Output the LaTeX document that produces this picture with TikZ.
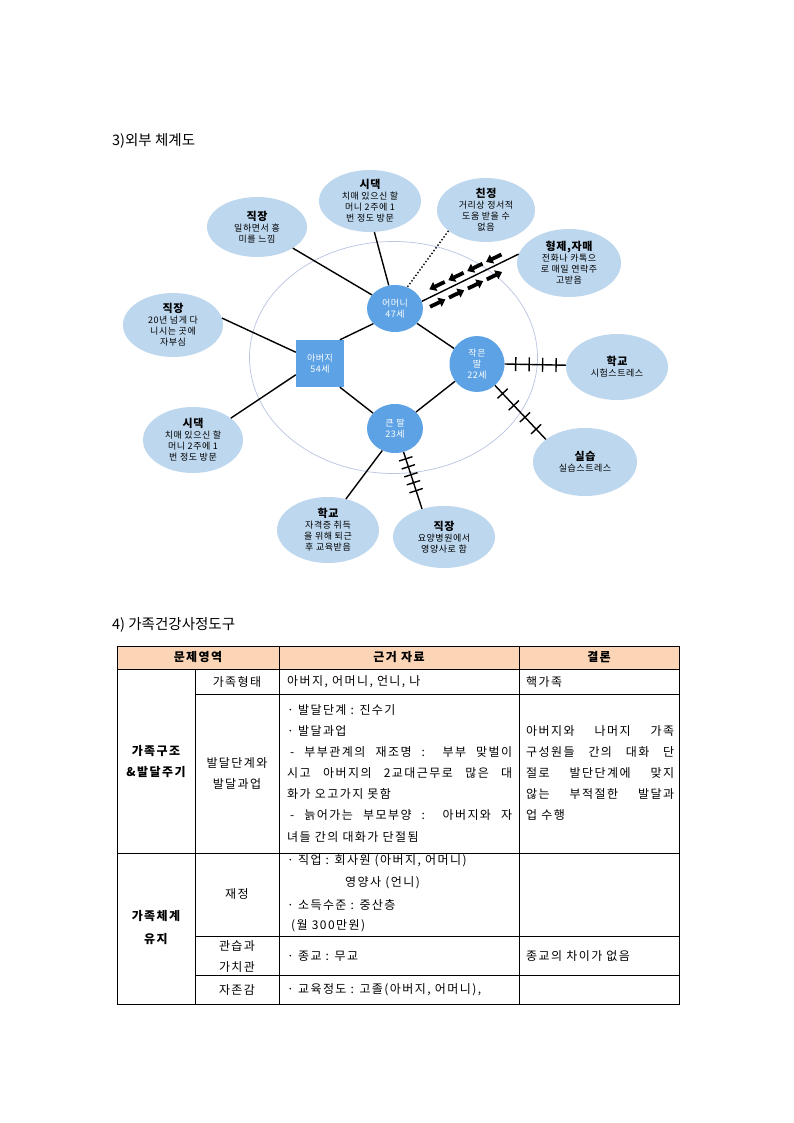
\documentclass[tikz,border=0pt]{standalone}
\usepackage{fontspec}
\setmainfont{Noto Sans CJK KR}
\newfontfamily\tbf[LetterSpace=12]{Noto Sans CJK KR}
\newfontfamily\dgf[LetterSpace=6]{Noto Sans CJK KR}
\usetikzlibrary{shapes.geometric,arrows.meta,decorations.markings,calc}
\definecolor{bubfill}{HTML}{BDD7EE}
\definecolor{memfill}{HTML}{5DA2E4}
\definecolor{ringc}{HTML}{B9C3E2}
\definecolor{headfill}{HTML}{FBD5B5}
\newcommand\ttl[1]{{\fontsize{11}{13}\selectfont\bfseries #1}}
\newcommand\jl[2]{\makebox[#1pt][s]{#2}}
\newcommand\tickmk{\draw[line width=1.4pt] (0pt,-7pt) -- (0pt,7pt);}
\begin{document}
\begin{tikzpicture}[x=1pt,y=-1pt,
  bub/.style={ellipse, fill=bubfill, inner sep=-8pt, align=center,
    font=\dgf\fontsize{9}{11}\selectfont},
  mem/.style={ellipse, fill=memfill, inner sep=0pt, text=white, align=center,
    font=\dgf\fontsize{9}{11}\selectfont},
  memr/.style={rectangle, fill=memfill, inner sep=0pt, text=white, align=center,
    font=\dgf\fontsize{9}{11}\selectfont},
  link/.style={line width=1.4pt},
  dotlink/.style={line width=1.4pt, dotted},
  arw/.style={line width=3.8pt, -{Triangle[length=6.5pt,width=9.5pt]}},
  ticks/.style={line width=1.4pt, postaction={decorate},
    decoration={markings, #1}},
  tc/.style={font=\tbf\fontsize{12}{14}\selectfont, inner sep=0pt},
  tl/.style={tc, anchor=west},
  hd/.style={font=\fontsize{14.5}{16}\selectfont, inner sep=0pt, anchor=west},
  grid/.style={line width=0.8pt}
]
\useasboundingbox (0,0) rectangle (794,1123);
\fill[white] (0,0) rectangle (794,1123);

% ---------- titles ----------
\node[hd] (h3) at (112,141) {3)외부 체계도};
\node[hd] (h4) at (112,625) {4) 가족건강사정도구};

% ---------- diagram ----------
\draw[ringc, line width=0.7pt] (393.5,357.5) ellipse [x radius=144pt, y radius=116pt];

\node[bub, minimum width=100pt, minimum height=60pt] (tlj) at (257,227)
  {\ttl{직장}\\일하면서 흥\\미를 느낌};
\node[bub, minimum width=102pt, minimum height=62pt] (sd) at (370,201)
  {\ttl{시댁}\\치매 있으신 할\\머니 2주에 1\\번 정도 방문};
\node[bub, minimum width=98pt, minimum height=64pt] (cj) at (486,210)
  {\ttl{친정}\\거리상 정서적\\도움 받을 수\\없음};
\node[bub, minimum width=104pt, minimum height=68pt] (hj) at (569,263)
  {\ttl{형제,자매}\\전화나 카톡으\\로 매일 연락주\\고받음};
\node[bub, minimum width=100pt, minimum height=64pt] (lj) at (173,325)
  {\ttl{직장}\\20년 넘게 다\\니시는 곳에\\자부심};
\node[bub, minimum width=100pt, minimum height=66pt] (ls) at (193,440)
  {\ttl{시댁}\\치매 있으신 할\\머니 2주에 1\\번 정도 방문};
\node[bub, minimum width=102pt, minimum height=66pt] (hakr) at (617,367)
  {\ttl{학교}\\시험스트레스};
\node[bub, minimum width=104pt, minimum height=68pt] (shp) at (585,462)
  {\ttl{실습}\\실습스트레스};
\node[bub, minimum width=102pt, minimum height=66pt] (hb) at (328,530)
  {\ttl{학교}\\자격증 취득\\을 위해 퇴근\\후 교육받음};
\node[bub, minimum width=102pt, minimum height=62pt] (bj) at (444,537)
  {\ttl{직장}\\요양병원에서\\영양사로 함};

\node[memr, minimum width=48pt, minimum height=47pt] (dad) at (320,363.5) {아버지\\54세};
\node[mem, minimum width=56pt, minimum height=47pt] (mom) at (395,308.5) {어머니\\47세};
\node[mem, minimum width=55pt, minimum height=56pt] (sd2) at (477,364) {작은\\딸\\22세};
\node[mem, minimum width=56pt, minimum height=49pt] (kd) at (395,428.5) {큰 딸\\23세};

% connectors
\draw[link] (tlj) -- (mom);
\draw[link] (sd.-82) -- (mom);
\draw[dotlink] (cj.209) -- (mom.60);
\draw[link] (hj.170) -- (mom.15);
\draw[link] (lj.8) -- (dad.155);
\draw[link] (ls.30) -- (dad.205);
\draw[link] (dad.50) -- (mom.215);
\draw[link] (dad.-50) -- (kd.145);
\draw[link] (mom) -- (sd2);
\draw[link] (kd) -- (sd2);
\draw[link] (kd.-120) -- (hb.60);
\draw[ticks={mark=at position 0.18 with {\tickmk}, mark=at position 0.40 with {\tickmk},
  mark=at position 0.62 with {\tickmk}, mark=at position 0.84 with {\tickmk}}]
  (sd2.east) -- (hakr.178);
\draw[ticks={mark=at position 0.15 with {\tickmk}, mark=at position 0.37 with {\tickmk},
  mark=at position 0.59 with {\tickmk}, mark=at position 0.81 with {\tickmk}}]
  (sd2.-50) -- (shp.150);
\draw[ticks={mark=at position 0.12 with {\tickmk}, mark=at position 0.26 with {\tickmk},
  mark=at position 0.40 with {\tickmk}, mark=at position 0.54 with {\tickmk},
  mark=at position 0.68 with {\tickmk}}]
  (kd.-70) -- (bj.128);

% two-way communication arrows along mother - siblings line
\begin{scope}[shift={(mom.15)}, rotate=25.8]
  \foreach \s in {12,33,54,75} {
    \draw[arw] (\s+17,-7.5) -- (\s,-7.5);
  }
  \foreach \s in {5,26,47,68} {
    \draw[arw] (\s,8.5) -- (\s+17,8.5);
  }
\end{scope}

% ---------- table ----------
\fill[headfill] (117,646) rectangle (679,669);
\draw[grid] (117,646) rectangle (679,1004);
\draw[grid] (117,669) -- (679,669);
\draw[grid] (117,853) -- (679,853);
\draw[grid] (195,694) -- (679,694);
\draw[grid] (195,936) -- (679,936);
\draw[grid] (195,975) -- (679,975);
\draw[grid] (195,669) -- (195,1004);
\draw[grid] (279,646) -- (279,1004);
\draw[grid] (519,646) -- (519,1004);

\node[tc] (th1) at (198,657.5) {\bfseries 문제영역};
\node[tc] (th2) at (399,657.5) {\bfseries 근거 자료};
\node[tc] (th3) at (599,657.5) {\bfseries 결론};

\node[tc] (r1b) at (237,682) {가족형태};
\node[tl] (r1c) at (287,682) {아버지, 어머니, 언니, 나};
\node[tl] (r1d) at (526,682) {핵가족};

\node[tc] (g1a) at (156,751) {\bfseries 가족구조};
\node[tc] (g1b) at (156,772) {\bfseries \&발달주기};
\node[tc] (r2b1) at (237,763) {발달단계와};
\node[tc] (r2b2) at (237,784) {발달과업};
\node[tl] (r2c1) at (287,710) {· 발달단계 : 진수기};
\node[tl] (r2c2) at (287,731) {· 발달과업};
\node[tl] (r2c3) at (290,752) {\jl{222}{- 부부관계의 재조명 : 부부 맞벌이}};
\node[tl] (r2c4) at (287,773) {\jl{225}{시고 아버지의 2교대근무로 많은 대}};
\node[tl] (r2c5) at (287,794) {화가 오고가지 못함};
\node[tl] (r2c6) at (290,815) {\jl{222}{- 늙어가는 부모부양 : 아버지와 자}};
\node[tl] (r2c7) at (287,837) {녀들 간의 대화가 단절됨};
\node[tl] (r2d1) at (526,731) {\jl{148}{아버지와 나머지 가족}};
\node[tl] (r2d2) at (526,752) {\jl{148}{구성원들 간의 대화 단}};
\node[tl] (r2d3) at (526,773) {\jl{148}{절로 발단단계에 맞지}};
\node[tl] (r2d4) at (526,794) {\jl{148}{않는 부적절한 발달과}};
\node[tl] (r2d5) at (526,815) {업 수행};

\node[tc] (g2a) at (156,916) {\bfseries 가족체계};
\node[tc] (g2b) at (156,939) {\bfseries 유지};
\node[tc] (r3b) at (237,894) {재정};
\node[tl] (r3c1) at (287,861) {· 직업 : 회사원 (아버지, 어머니)};
\node[tl] (r3c2) at (345,883) {영양사 (언니)};
\node[tl] (r3c3) at (287,905) {· 소득수준 : 중산층};
\node[tl] (r3c4) at (291,926) {(월 300만원)};
\node[tc] (r4b1) at (237,946) {관습과};
\node[tc] (r4b2) at (237,967) {가치관};
\node[tl] (r4c) at (287,956) {· 종교 : 무교};
\node[tl] (r4d) at (526,956) {종교의 차이가 없음};
\node[tc] (r5b) at (237,990) {자존감};
\node[tl] (r5c) at (287,990) {· 교육정도 : 고졸(아버지, 어머니),};
\end{tikzpicture}
\end{document}
